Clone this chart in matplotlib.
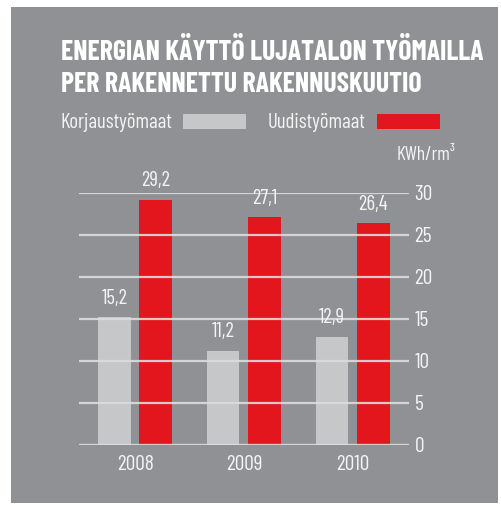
import matplotlib.pyplot as plt
import matplotlib.patches as mpatches
import numpy as np

years = ["2008", "2009", "2010"]
korjaus = [15.2, 11.2, 12.9]
uudis = [29.2, 27.1, 26.4]
value_labels_k = ["15,2", "11,2", "12,9"]
value_labels_u = ["29,2", "27,1", "26,4"]
yticks = [0, 5, 10, 15, 20, 25, 30]

BG = '#8f9194'
GREY = '#c6c7c9'
RED = '#e3151d'
LINE = '#dcdddf'
TXT = '#f4f4f4'
FONT = ['Barlow Condensed', 'DejaVu Sans']

plt.rcParams['font.family'] = FONT

W, H = 501, 505
fig = plt.figure(figsize=(W / 100, H / 100), dpi=100)
fig.patch.set_facecolor('white')

def fx(px):
    return px / W

def fy(py):
    return 1 - py / H

# grey panel behind everything
fig.patches.append(mpatches.Rectangle((fx(11), fy(503)), fx(498) - fx(11), fy(7) - fy(503),
                                      transform=fig.transFigure, facecolor=BG, edgecolor='none', zorder=-10))

ax = fig.add_axes([fx(79), fy(445), fx(409) - fx(79), fy(193) - fy(445)])
ax.set_facecolor('none')

x = np.arange(len(years))
w = 0.30
off = 0.19
ax.bar(x - off, korjaus, w, color=GREY, zorder=2)
ax.bar(x + off, uudis, w, color=RED, zorder=2)

for t in yticks:
    ax.axhline(t, color=LINE, lw=1.6 if t else 2.4, zorder=3, alpha=0.9)

for xi, v, s in zip(x - off, korjaus, value_labels_k):
    ax.annotate(s, (xi, v), xytext=(0, 7), textcoords='offset points', ha='center', va='bottom',
                color=TXT, fontsize=15, annotation_clip=False)
for xi, v, s in zip(x + off, uudis, value_labels_u):
    ax.annotate(s, (xi, v), xytext=(0, 7), textcoords='offset points', ha='center', va='bottom',
                color=TXT, fontsize=15, annotation_clip=False)

ax.set_xlim(-0.516, 2.519)
ax.set_ylim(0, 30)
ax.set_xticks(x)
ax.set_xticklabels(years, fontsize=15.5, color=TXT)
ax.yaxis.tick_right()
ax.set_yticks(yticks)
ax.set_yticklabels([str(t) for t in yticks], fontsize=15.5, color=TXT)
ax.tick_params(axis='both', length=0)
ax.tick_params(axis='y', pad=4)
ax.tick_params(axis='x', pad=7)
for s in ax.spines.values():
    s.set_visible(False)

# title
fig.text(fx(61), fy(51), "ENERGIAN KÄYTTÖ LUJATALON TYÖMAILLA", fontsize=20, fontweight='bold',
         color='white', va='center', ha='left')
fig.text(fx(61), fy(85), "PER RAKENNETTU RAKENNUSKUUTIO", fontsize=20, fontweight='bold',
         color='white', va='center', ha='left')

# legend
fig.text(fx(60), fy(122), "Korjaustyömaat", fontsize=15, color=TXT, va='center', ha='left')
fig.patches.append(mpatches.Rectangle((fx(183), fy(129)), fx(246) - fx(183), fy(114) - fy(129),
                                      transform=fig.transFigure, facecolor=GREY, edgecolor='none'))
fig.text(fx(268), fy(122), "Uudistyömaat", fontsize=15, color=TXT, va='center', ha='left')
fig.patches.append(mpatches.Rectangle((fx(377), fy(129)), fx(440) - fx(377), fy(114) - fy(129),
                                      transform=fig.transFigure, facecolor=RED, edgecolor='none'))

fig.text(fx(397), fy(155), "KWh/rm³", fontsize=14, color=TXT, va='center', ha='left')

fig.savefig('out.png', dpi=100, facecolor=fig.get_facecolor())
